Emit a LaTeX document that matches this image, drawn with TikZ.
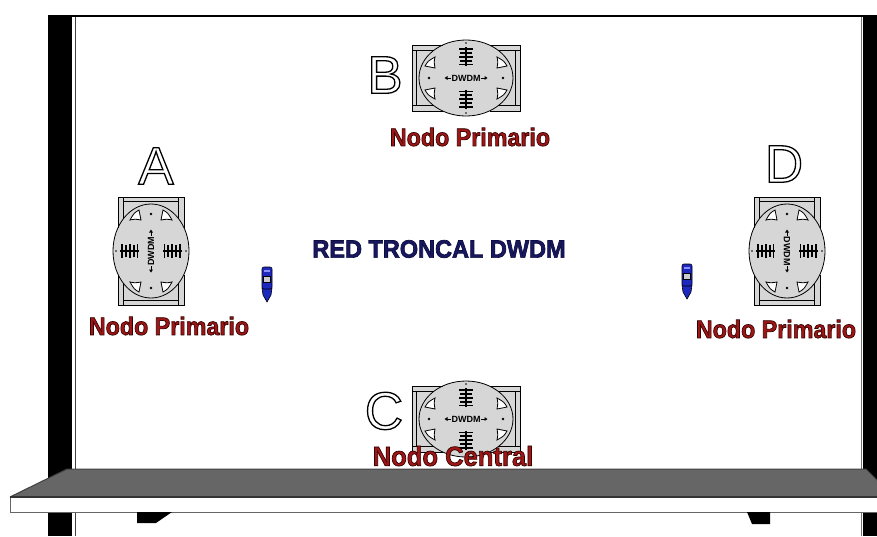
\documentclass[tikz,border=0pt]{standalone}
\usepackage{fontspec}
\setmainfont{Liberation Sans}
\usetikzlibrary{arrows.meta}

\definecolor{bodygray}{RGB}{214,214,214}
\definecolor{shelfgray}{RGB}{102,102,102}
\definecolor{labelred}{RGB}{158,22,22}
\definecolor{navy}{RGB}{24,24,96}
\definecolor{markblue}{RGB}{28,40,190}

% outlined glyphs through the PDF text render mode
\newcommand{\hollow}[1]{\special{pdf:literal 1 Tr 1.3 w}#1\special{pdf:literal 0 Tr}}
\newcommand{\rimmed}[2]{\special{pdf:literal 2 Tr 0.7 w #1 RG}#2\special{pdf:literal 0 Tr}}

\tikzset{
  devline/.style={draw=black, line width=0.8pt},
  letterlbl/.style={inner sep=0pt, font=\fontsize{53}{53}\selectfont},
  nodelbl/.style={inner sep=0pt, text=labelred, font=\bfseries\fontsize{25}{25}\selectfont},
  % fibre splice closure with its DWDM module
  closure/.pic={
    \fill[bodygray] (-54,-33) rectangle (54,33);
    \fill[bodygray] (0,0) ellipse[x radius=47, y radius=38];
    \draw[devline] (0,0) ellipse[x radius=47, y radius=38];
    \draw[devline] (-23.5,-33) -- (-54,-33) -- (-54,33) -- (-23.5,33);
    \draw[devline] (23.5,-33) -- (54,-33) -- (54,33) -- (23.5,33);
    \draw[devline] (-54,-27.5) -- (-32.4,-27.5) (-54,27.5) -- (-32.4,27.5)
                   (32.4,-27.5) -- (54,-27.5) (32.4,27.5) -- (54,27.5);
    \draw[devline] (-49.5,-27.5) -- (-49.5,27.5) (49.5,-27.5) -- (49.5,27.5);
    \foreach \sx/\sy in {1/1,1/-1,-1/1,-1/-1}{
      \draw[devline, fill=white, xscale=\sx, yscale=\sy]
        (-41,-12) .. controls (-38,-17) .. (-31,-21) .. controls (-32,-16) .. (-31,-10) -- cycle;
    }
    \fill (-37,0) circle (1.3) (37,0) circle (1.3);
    \fill (0,-35) circle (0.9) (0,35) circle (0.9);
    \foreach \sy in {1,-1}{
      \begin{scope}[yscale=\sy]
        \draw[line width=1.5pt] (0,-31) -- (0,-12);
        \foreach \yy/\w in {-29/7,-25/6,-21/7,-17/6,-13.5/7}
          \draw[line width=1.9pt] (-\w,\yy) -- (\w,\yy);
      \end{scope}
    }
    \node[inner sep=0pt, transform shape, font=\bfseries\fontsize{9}{9}\selectfont] at (0,0) {DWDM};
    \draw[line width=0.9pt] (-20,0) -- (-15,0) (15,0) -- (20,0);
    \fill (-21.5,0) -- (-18.5,-2) -- (-18.5,2) -- cycle
          (21.5,0) -- (18.5,-2) -- (18.5,2) -- cycle;
  },
  % blue marker
  marker/.pic={
    \draw[line width=0.6pt, fill=markblue] (-5,21) -- (-4,28) -- (0,35) -- (4,28) -- (5,21) -- cycle;
    \draw[line width=0.6pt, fill=markblue, rounded corners=2pt] (-5,0) rectangle (5,22);
    \fill[blue!45!white] (-3,2.5) rectangle (3,4.5);
    \draw[line width=0.5pt, fill=black!20] (-3.5,9) rectangle (3.5,15);
  }
}

\begin{document}
\begin{tikzpicture}[x=1pt, y=-1pt]
  \fill[white] (0,0) rectangle (877,536);
  \useasboundingbox (0,0) rectangle (877,536);

  % frame posts and top rail
  \fill[black] (48,15) rectangle (72,536);
  \fill[black] (863,15) rectangle (877,536);
  \draw[black, line width=2pt] (72,16) -- (863,16);
  \draw[black!75, line width=1pt] (75,17) -- (75,536);
  \draw[black!55, line width=1pt] (861,17) -- (861,536);

  % closures
  \pic at (466,78) {closure};
  \pic at (466,419) {closure};
  \pic[rotate=90] at (151,251) {closure};
  \pic[rotate=-90] at (787,251) {closure};

  % markers
  \pic at (267,267) {marker};
  \pic at (687,264) {marker};

  % letters
  \node[letterlbl] (la) at (156,166) {\hollow{A}};
  \node[letterlbl] (lb) at (385,75) {\hollow{B}};
  \node[letterlbl] (lc) at (384,411) {\hollow{C}};
  \node[letterlbl] (ld) at (784,164) {\hollow{D}};

  % labels
  \node[nodelbl] (nb) at (470,137) {\scalebox{0.93}[1]{\rimmed{0.2 0 0}{Nodo Primario}}};
  \node[nodelbl] (na) at (169,326) {\scalebox{0.93}[1]{\rimmed{0.2 0 0}{Nodo Primario}}};
  \node[nodelbl] (nd) at (776,329) {\scalebox{0.93}[1]{\rimmed{0.2 0 0}{Nodo Primario}}};
  \node[nodelbl, font=\bfseries\fontsize{27.5}{27.5}\selectfont] (nc) at (453,456)
    {\scalebox{0.93}[1]{\rimmed{0.2 0 0}{Nodo Central}}};
  \node[inner sep=0pt, text=navy, font=\bfseries\fontsize{25}{25}\selectfont] (red) at (439,249)
    {\scalebox{0.94}[1]{\rimmed{0.05 0.05 0.25}{RED TRONCAL DWDM}}};

  % shelf
  \fill[shelfgray] (67,469) -- (866,469) -- (894,497) -- (10,497) -- cycle;
  \draw[black!75, line width=1pt] (10,497) -- (67,469) -- (866,469) -- (894,497);
  \draw[draw=black!60, fill=white, line width=1pt] (10,497) rectangle (890,512);
  \draw[black!80, line width=1.2pt] (10,497) -- (890,497);
  \fill[black] (137,512) -- (137,523) -- (156,523) -- (172,512) -- cycle;
  \fill[black] (747,512) -- (752,524) -- (770,524) -- (770,512) -- cycle;
\end{tikzpicture}
\end{document}
